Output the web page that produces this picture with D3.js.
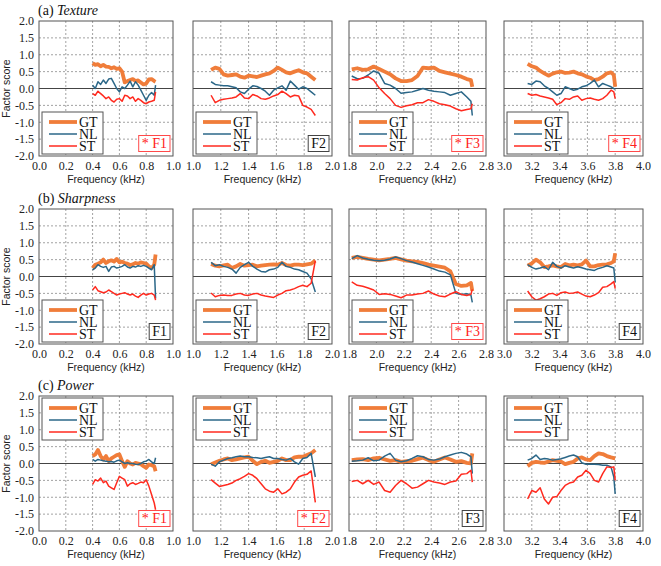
<!DOCTYPE html>
<html>
<head>
<meta charset="utf-8">
<script src="https://cdn.jsdelivr.net/npm/d3@7"></script>
<style>
  body { margin: 0; background: #fff; }
  svg { display: block; }
  .serif { font-family: "Liberation Serif", "DejaVu Serif", "Times New Roman", serif; }
  .sans { font-family: "Liberation Sans", "DejaVu Sans", Arial, sans-serif; }
</style>
</head>
<body>
<script>
// ---- data ----
const factorNames = ["F1", "F2", "F3", "F4"];
const seriesNames = ["GT", "NL", "ST"];
const rowTitles = [["(a) ", "Texture"], ["(b) ", "Sharpness"], ["(c) ", "Power"]];
const significant = [[true, false, true, true], [false, false, true, false], [true, true, false, false]];

const xDomains = [[0, 1], [1, 2], [1.8, 2.8], [3, 4]];
const xTicksF1 = [0.0, 0.2, 0.4, 0.6, 0.8, 1.0];
const xTicksF2 = [1.0, 1.2, 1.4, 1.6, 1.8, 2.0];
const xTicksF3 = [1.8, 2.0, 2.2, 2.4, 2.6, 2.8];
const xTicksF4 = [3.0, 3.2, 3.4, 3.6, 3.8, 4.0];
const yTicks = [2.0, 1.5, 1.0, 0.5, 0.0, -0.5, -1.0, -1.5, -2.0];

// frequencies (kHz) sampled for each formant band
const freqF1 = [0.40,0.42,0.44,0.46,0.48,0.50,0.52,0.54,0.56,0.58,0.60,0.62,0.64,0.66,0.68,0.70,0.72,0.74,0.76,0.78,0.80,0.82,0.84,0.86,0.87];
const freqF2 = [1.13,1.16,1.19,1.22,1.25,1.28,1.31,1.34,1.37,1.40,1.43,1.46,1.49,1.52,1.55,1.58,1.61,1.64,1.67,1.70,1.73,1.76,1.79,1.82,1.85,1.88];
const freqF3 = [1.82,1.86,1.90,1.94,1.98,2.02,2.06,2.10,2.14,2.18,2.22,2.26,2.30,2.34,2.38,2.42,2.46,2.50,2.54,2.58,2.62,2.66,2.69,2.70];
const freqF4 = [3.17,3.20,3.23,3.26,3.29,3.32,3.35,3.38,3.41,3.44,3.47,3.50,3.53,3.56,3.59,3.62,3.65,3.68,3.71,3.74,3.77,3.79,3.80];

// (a) Texture
const texF1GT = [0.75,0.70,0.72,0.66,0.70,0.65,0.64,0.60,0.63,0.58,0.60,0.50,0.18,0.22,0.25,0.28,0.22,0.24,0.18,0.12,0.15,0.27,0.28,0.22,0.20];
const texF1NL = [0.10,0.00,0.20,0.12,0.25,0.15,0.28,0.30,0.15,0.00,-0.10,0.05,0.00,0.10,0.22,0.05,0.20,0.10,-0.05,-0.20,-0.35,-0.20,-0.12,-0.20,0.10];
const texF1ST = [-0.15,-0.20,-0.08,-0.15,-0.22,-0.30,-0.25,-0.35,-0.40,-0.32,-0.30,-0.38,-0.20,-0.22,-0.30,-0.25,-0.38,-0.30,-0.35,-0.42,-0.45,-0.40,-0.38,-0.35,-0.10];
const texF2GT = [0.55,0.62,0.58,0.42,0.38,0.40,0.42,0.35,0.32,0.38,0.36,0.34,0.38,0.42,0.45,0.52,0.62,0.55,0.48,0.45,0.50,0.54,0.48,0.45,0.35,0.25];
const texF2NL = [0.20,0.12,0.10,0.08,0.08,0.05,0.02,-0.10,-0.15,-0.02,0.08,0.06,0.00,-0.08,-0.20,-0.05,0.02,0.08,-0.05,0.22,0.10,-0.02,0.05,0.00,-0.10,-0.20];
const texF2ST = [-0.20,-0.42,-0.35,-0.32,-0.30,-0.28,-0.25,-0.15,-0.28,-0.30,-0.18,-0.22,-0.30,-0.32,-0.28,-0.22,-0.18,-0.08,-0.15,-0.25,-0.20,-0.22,-0.50,-0.55,-0.62,-0.80];
const texF3GT = [0.57,0.60,0.55,0.57,0.65,0.58,0.50,0.42,0.30,0.22,0.22,0.25,0.37,0.62,0.60,0.62,0.52,0.48,0.44,0.40,0.35,0.28,0.25,0.05];
const texF3NL = [0.37,0.29,0.30,0.40,0.52,0.45,0.15,0.10,0.00,-0.14,-0.12,-0.10,-0.05,0.00,-0.05,-0.08,-0.10,-0.12,-0.20,-0.15,-0.10,-0.25,-0.38,-0.80];
const texF3ST = [0.27,0.25,0.32,0.35,0.25,0.02,-0.15,-0.30,-0.50,-0.56,-0.51,-0.48,-0.42,-0.42,-0.33,-0.38,-0.45,-0.48,-0.52,-0.60,-0.66,-0.62,-0.60,-0.45];
const texF4GT = [0.73,0.66,0.62,0.52,0.45,0.38,0.44,0.48,0.50,0.46,0.47,0.50,0.45,0.42,0.36,0.32,0.25,0.28,0.35,0.45,0.48,0.40,0.05];
const texF4NL = [0.15,0.12,0.22,0.20,0.08,0.00,-0.10,-0.20,-0.15,0.05,0.00,-0.05,-0.02,0.05,0.08,0.15,0.25,0.05,0.15,0.10,0.05,0.00,-0.02];
const texF4ST = [-0.15,-0.20,-0.18,-0.22,-0.25,-0.28,-0.32,-0.48,-0.42,-0.30,-0.32,-0.25,-0.22,-0.35,-0.30,-0.28,-0.32,-0.35,-0.30,-0.20,-0.05,-0.10,-0.30];

// (b) Sharpness
const shaF1GT = [0.25,0.35,0.38,0.42,0.50,0.40,0.45,0.48,0.44,0.52,0.42,0.44,0.40,0.38,0.34,0.36,0.40,0.38,0.42,0.40,0.38,0.30,0.25,0.35,0.65];
const shaF1NL = [0.20,0.25,0.35,0.30,0.27,0.30,0.15,0.28,0.30,0.25,0.27,0.30,0.35,0.28,0.25,0.30,0.28,0.32,0.30,0.33,0.30,0.25,0.20,0.35,-0.65];
const shaF1ST = [-0.40,-0.30,-0.42,-0.45,-0.48,-0.46,-0.40,-0.45,-0.50,-0.55,-0.52,-0.50,-0.48,-0.52,-0.55,-0.52,-0.58,-0.62,-0.55,-0.50,-0.55,-0.52,-0.50,-0.55,-0.70];
const shaF2GT = [0.37,0.32,0.30,0.33,0.35,0.25,0.30,0.37,0.32,0.34,0.35,0.30,0.32,0.34,0.35,0.36,0.35,0.40,0.34,0.32,0.35,0.35,0.34,0.36,0.38,0.47];
const shaF2NL = [0.42,0.32,0.35,0.30,0.27,0.22,0.10,0.27,0.35,0.42,0.30,0.22,0.15,0.13,0.20,0.22,0.27,0.42,0.30,0.27,0.22,0.20,0.15,0.10,-0.07,-0.46];
const shaF2ST = [-0.49,-0.60,-0.56,-0.55,-0.56,-0.56,-0.52,-0.50,-0.55,-0.56,-0.52,-0.50,-0.55,-0.58,-0.60,-0.62,-0.55,-0.50,-0.42,-0.40,-0.36,-0.30,-0.26,-0.30,-0.20,0.47];
const shaF3GT = [0.55,0.58,0.55,0.52,0.50,0.48,0.50,0.52,0.55,0.51,0.47,0.45,0.43,0.40,0.35,0.32,0.29,0.26,0.15,-0.22,-0.28,-0.26,-0.19,-0.43];
const shaF3NL = [0.53,0.62,0.55,0.51,0.48,0.47,0.48,0.52,0.58,0.53,0.47,0.43,0.38,0.33,0.28,0.22,0.16,0.13,0.05,-0.50,-0.53,-0.51,-0.55,-0.77];
const shaF3ST = [-0.16,-0.26,-0.29,-0.34,-0.40,-0.53,-0.51,-0.53,-0.58,-0.63,-0.55,-0.55,-0.52,-0.50,-0.43,-0.52,-0.58,-0.60,-0.52,-0.45,-0.53,-0.56,-0.53,-0.38];
const shaF4GT = [0.32,0.39,0.50,0.42,0.28,0.30,0.33,0.30,0.28,0.37,0.33,0.35,0.33,0.36,0.47,0.30,0.30,0.34,0.35,0.36,0.40,0.45,0.69];
const shaF4NL = [0.35,0.27,0.22,0.25,0.29,0.20,0.42,0.30,0.25,0.32,0.28,0.25,0.29,0.26,0.22,0.20,0.18,0.24,0.27,0.32,0.28,0.25,-0.17];
const shaF4ST = [-0.43,-0.60,-0.70,-0.66,-0.60,-0.52,-0.50,-0.56,-0.48,-0.46,-0.50,-0.49,-0.46,-0.52,-0.58,-0.60,-0.55,-0.48,-0.32,-0.30,-0.22,-0.15,-0.36];

// (c) Power
const powF1GT = [0.22,0.27,0.40,0.22,0.12,0.22,0.07,0.15,0.20,0.25,0.27,0.07,-0.10,0.07,0.00,-0.03,0.02,0.00,-0.02,-0.08,-0.13,-0.03,-0.05,-0.08,-0.23];
const powF1NL = [0.12,0.07,0.12,0.10,0.08,0.07,0.05,0.06,0.04,0.08,0.10,0.05,0.00,0.02,0.00,0.00,-0.02,-0.03,0.00,0.05,0.07,0.12,0.05,0.00,0.17];
const powF1ST = [-0.62,-0.48,-0.52,-0.43,-0.57,-0.52,-0.67,-0.72,-0.77,-0.57,-0.38,-0.43,-0.48,-0.67,-0.60,-0.57,-0.62,-0.59,-0.55,-0.57,-0.48,-0.67,-0.92,-1.17,-1.37];
const powF2GT = [-0.02,0.03,0.08,0.12,0.15,0.10,0.12,0.15,0.18,0.20,0.08,-0.02,0.05,0.08,0.02,0.05,0.08,0.15,0.10,0.10,0.18,0.20,0.20,0.25,0.30,0.40];
const powF2NL = [-0.02,-0.08,0.05,0.10,0.15,0.17,0.20,0.22,0.20,0.20,0.18,0.17,0.15,0.18,0.20,0.15,0.15,0.12,0.10,0.15,0.05,-0.02,0.15,0.18,0.30,-0.40];
const powF2ST = [-0.48,-0.58,-0.68,-0.65,-0.62,-0.58,-0.50,-0.45,-0.38,-0.30,-0.35,-0.45,-0.60,-0.75,-0.82,-0.85,-0.75,-0.90,-0.85,-0.75,-0.55,-0.40,-0.35,-0.32,-0.22,-1.15];
const powF3GT = [0.10,0.12,0.13,0.10,0.15,0.17,0.12,0.08,0.10,0.05,0.07,0.08,0.13,0.17,0.10,0.05,0.12,0.18,0.12,0.05,0.07,0.02,0.00,0.30];
const powF3NL = [0.07,0.08,0.10,0.17,0.08,0.10,0.22,0.30,0.10,0.05,0.08,0.15,0.23,0.20,0.12,0.10,0.13,0.20,0.25,0.30,0.33,0.28,0.20,-0.30];
const powF3ST = [-0.53,-0.50,-0.60,-0.50,-0.62,-0.55,-0.80,-0.85,-0.65,-0.50,-0.60,-0.73,-0.70,-0.60,-0.50,-0.55,-0.58,-0.62,-0.55,-0.52,-0.32,-0.30,-0.20,-0.55];
const powF4GT = [-0.08,0.02,0.05,0.03,0.02,0.06,0.10,0.08,0.06,-0.02,0.02,0.05,0.15,0.18,0.12,0.10,0.22,0.30,0.28,0.22,0.18,0.16,0.15];
const powF4NL = [0.10,0.15,0.25,0.12,0.15,0.13,0.10,0.12,0.14,0.18,0.22,0.25,0.20,0.02,-0.02,-0.02,-0.02,-0.03,-0.05,-0.05,-0.10,-0.40,-0.90];
const powF4ST = [-1.05,-0.80,-0.85,-0.72,-1.05,-1.20,-1.00,-0.98,-0.80,-0.65,-0.58,-0.55,-0.40,-0.35,-0.20,-0.30,-0.50,-0.55,-0.30,-0.10,-0.12,-0.10,-0.50];

// ---- assemble ----
const freqs = [freqF1, freqF2, freqF3, freqF4];
const xTicks = [xTicksF1, xTicksF2, xTicksF3, xTicksF4];
const rows = [
    [[texF1GT, texF1NL, texF1ST], [texF2GT, texF2NL, texF2ST], [texF3GT, texF3NL, texF3ST], [texF4GT, texF4NL, texF4ST]],
    [[shaF1GT, shaF1NL, shaF1ST], [shaF2GT, shaF2NL, shaF2ST], [shaF3GT, shaF3NL, shaF3ST], [shaF4GT, shaF4NL, shaF4ST]],
    [[powF1GT, powF1NL, powF1ST], [powF2GT, powF2NL, powF2ST], [powF3GT, powF3NL, powF3ST], [powF4GT, powF4NL, powF4ST]]
];

const colors = { GT: "#f07d3a", NL: "#2b6788", ST: "#ff2a1f" };
const widths = { GT: 3.8, NL: 1.5, ST: 1.5 };

// layout
const colLeft = [39, 193, 349, 504];
const colWidth = [134, 139, 137, 139];
const rowTop = [21, 209, 396];
const plotH = 135;

const svg = d3.select("body").append("svg")
    .attr("width", 661)
    .attr("height", 566);

rows.forEach((row, r) => {
    const top = rowTop[r];
    const bottom = top + plotH;

    // row title
    const title = svg.append("text")
        .attr("class", "serif")
        .attr("x", colLeft[0] - 1)
        .attr("y", top - 6)
        .attr("font-size", 14)
        .attr("fill", "#111");
    title.append("tspan").text(rowTitles[r][0]);
    title.append("tspan").attr("font-style", "italic").text(rowTitles[r][1]);

    // y label
    svg.append("text")
        .attr("class", "sans")
        .attr("transform", `translate(10,${top + plotH / 2}) rotate(-90)`)
        .attr("text-anchor", "middle")
        .attr("font-size", 10.5)
        .attr("fill", "#222")
        .text("Factor score");

    row.forEach((series, c) => {
        const left = colLeft[c];
        const right = left + colWidth[c];
        const x = d3.scaleLinear().domain(xDomains[c]).range([left, right]);
        const y = d3.scaleLinear().domain([-2, 2]).range([bottom, top]);
        const g = svg.append("g");

        // grid
        g.selectAll(".hgrid")
            .data(yTicks.filter(v => v !== 0 && Math.abs(v) !== 2))
            .join("line")
            .attr("x1", left).attr("x2", right)
            .attr("y1", d => y(d)).attr("y2", d => y(d))
            .attr("stroke", "#8a8a8a")
            .attr("stroke-width", 0.8)
            .attr("stroke-dasharray", "2,2");

        g.selectAll(".vgrid")
            .data(xTicks[c].slice(1, -1))
            .join("line")
            .attr("x1", d => x(d)).attr("x2", d => x(d))
            .attr("y1", top).attr("y2", bottom)
            .attr("stroke", "#8a8a8a")
            .attr("stroke-width", 0.8)
            .attr("stroke-dasharray", "2,2");

        g.append("line")
            .attr("x1", left).attr("x2", right)
            .attr("y1", y(0)).attr("y2", y(0))
            .attr("stroke", "#444")
            .attr("stroke-width", 1);

        // curves
        const fr = freqs[c];
        series.forEach((vals, k) => {
            const name = seriesNames[k];
            const line = d3.line()
                .x((d, i) => x(fr[i]))
                .y(d => y(d));
            g.append("path")
                .datum(vals)
                .attr("d", line)
                .attr("fill", "none")
                .attr("stroke", colors[name])
                .attr("stroke-width", widths[name])
                .attr("stroke-linejoin", "round");
        });

        // frame
        g.append("rect")
            .attr("x", left).attr("y", top)
            .attr("width", colWidth[c]).attr("height", plotH)
            .attr("fill", "none")
            .attr("stroke", "#555")
            .attr("stroke-width", 1);

        // x axis labels
        const xAxis = d3.axisBottom(x)
            .tickValues(xTicks[c])
            .tickSize(0)
            .tickPadding(5)
            .tickFormat(d => d.toFixed(1));
        const xa = g.append("g").attr("transform", `translate(0,${bottom})`).call(xAxis);
        xa.attr("font-family", null).attr("font-size", null).attr("class", "serif");
        xa.select(".domain").remove();
        xa.selectAll("text")
            .attr("font-size", 12)
            .attr("fill", "#222");

        g.append("text")
            .attr("class", "sans")
            .attr("x", (left + right) / 2)
            .attr("y", bottom + 27)
            .attr("text-anchor", "middle")
            .attr("font-size", 10.5)
            .attr("fill", "#222")
            .text("Frequency (kHz)");

        if (c === 0) {
            const yAxis = d3.axisLeft(y)
                .tickValues(yTicks)
                .tickSize(0)
                .tickPadding(5)
                .tickFormat(d => d.toFixed(1));
            const ya = g.append("g").attr("transform", `translate(${left},0)`).call(yAxis);
            ya.attr("font-family", null).attr("font-size", null).attr("class", "serif");
            ya.select(".domain").remove();
            ya.selectAll("text")
                .attr("font-size", 12)
                .attr("fill", "#222");
        }

        // legend
        const lx = left + 3;
        const ly = r === 2 ? top + 2 : bottom - 44;
        const leg = g.append("g").attr("transform", `translate(${lx},${ly})`);
        leg.append("rect")
            .attr("width", 61).attr("height", 42)
            .attr("fill", "#fff")
            .attr("stroke", "#555")
            .attr("stroke-width", 1);
        seriesNames.forEach((name, k) => {
            const yy = 10 + k * 12;
            leg.append("line")
                .attr("x1", 7).attr("x2", 35)
                .attr("y1", yy).attr("y2", yy)
                .attr("stroke", colors[name])
                .attr("stroke-width", widths[name]);
            leg.append("text")
                .attr("class", "serif")
                .attr("x", 37)
                .attr("y", yy + 5)
                .attr("font-size", 14)
                .attr("fill", "#111")
                .text(name);
        });

        // factor tag
        const sig = significant[r][c];
        const tag = g.append("text")
            .attr("class", "serif")
            .attr("x", right - 6)
            .attr("y", bottom - 8)
            .attr("text-anchor", "end")
            .attr("font-size", 14)
            .attr("fill", sig ? "#ff2020" : "#111")
            .text((sig ? "* " : "") + factorNames[c]);
        const bb = tag.node().getBBox();
        g.insert("rect", () => tag.node())
            .attr("x", bb.x - 3).attr("y", bb.y - 0.5)
            .attr("width", bb.width + 6).attr("height", bb.height + 1)
            .attr("fill", "#fff")
            .attr("stroke", sig ? "#ff4a4a" : "#444")
            .attr("stroke-width", 1);
    });
});
</script>
</body>
</html>
